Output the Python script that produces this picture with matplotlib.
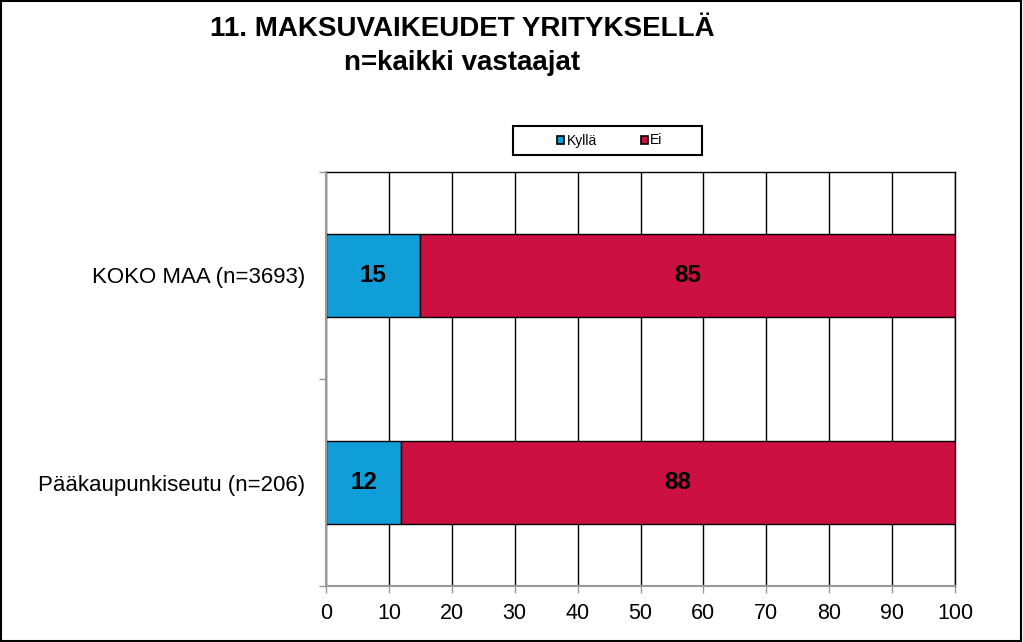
import matplotlib
matplotlib.use("Agg")
import matplotlib.pyplot as plt
from matplotlib.patches import Rectangle

plt.rcParams['font.family'] = ['Liberation Sans', 'DejaVu Sans']

title = "11. MAKSUVAIKEUDET YRITYKSELLÄ\nn=kaikki vastaajat"
categories = ["KOKO MAA (n=3693)", "Pääkaupunkiseutu (n=206)"]
series_names = ["Kyllä", "Ei"]
kylla = [15, 12]
ei = [85, 88]
xticks = [0, 10, 20, 30, 40, 50, 60, 70, 80, 90, 100]

colors = ['#0F9ED8', '#CC1041']

fig = plt.figure(figsize=(10.23, 6.42), dpi=100)
ax = fig.add_axes([326/1023, 56/642, 629/1023, 414/642])

ypos = [1, 0]
h = 0.405
b1 = ax.barh(ypos, kylla, height=h, color=colors[0], edgecolor='black', linewidth=1, zorder=3)
b2 = ax.barh(ypos, ei, left=kylla, height=h, color=colors[1], edgecolor='black', linewidth=1, zorder=3)
for vals, lefts in [(kylla, [0, 0]), (ei, kylla)]:
    for y, v, l in zip(ypos, vals, lefts):
        ax.text(l + v / 2, y, f"{v}", ha='center', va='center', fontsize=17.5,
                fontweight='bold', color='black', zorder=4)

ax.set_xlim(0, 100)
ax.set_ylim(-0.5, 1.5)
ax.set_xticks(xticks)
ax.set_xticklabels([str(t) for t in xticks], fontsize=15.5)
ax.set_yticks(ypos)
ax.set_yticklabels(categories, fontsize=16)
ax.tick_params(axis='y', length=0, pad=15)
ax.set_yticks([-0.5, 0.5, 1.5], minor=True)
ax.tick_params(axis='y', which='minor', length=5, color='#999999', width=1)
ax.tick_params(axis='x', length=5, color='#999999', width=1, pad=7)

ax.xaxis.grid(True, color='black', linewidth=1, zorder=0)
ax.set_axisbelow(True)
for s in ['top', 'right']:
    ax.spines[s].set_color('black')
    ax.spines[s].set_linewidth(1)
for s in ['left', 'bottom']:
    ax.spines[s].set_color('#999999')
    ax.spines[s].set_linewidth(1.5)
    ax.spines[s].set_zorder(5)

fig.text(462/1023, 1 - 46/642, title, ha='center', va='center', fontsize=20,
         fontweight='bold', linespacing=1.38)

# legend box
fig.patches.append(Rectangle((513/1023, 1 - 155/642), 189/1023, 29/642, transform=fig.transFigure,
                             facecolor='white', edgecolor='black', linewidth=1.5))
handles = [Rectangle((0, 0), 1, 1, facecolor=c, edgecolor='black', linewidth=1.2) for c in colors]
leg = fig.legend(handles, series_names, loc='center', bbox_to_anchor=(610/1023, 1 - 140.5/642),
                 ncol=2, fontsize=10, frameon=False,
                 handlelength=0.5, handleheight=0.5, handletextpad=0.15, columnspacing=3.2,
                 borderpad=0.3)

fig.patches.append(Rectangle((0.001, 0.002), 0.997, 0.996, transform=fig.transFigure,
                             fill=False, edgecolor='black', linewidth=1.5))

fig.savefig("out.png", dpi=100, facecolor='white')
